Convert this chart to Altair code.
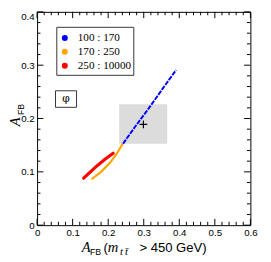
import altair as alt
import pandas as pd

# ---------------- data ----------------
blue_x = [0.242, 0.275, 0.314, 0.350, 0.391]
blue_y = [0.153, 0.184, 0.219, 0.253, 0.291]

orange_x = [0.155, 0.180, 0.205, 0.225, 0.240]
orange_y = [0.087, 0.100, 0.117, 0.135, 0.152]

red_x = [0.131, 0.150, 0.169, 0.192, 0.214]
red_y = [0.088, 0.100, 0.1115, 0.124, 0.135]

legend_labels = ["100 : 170", "170 : 250", "250 : 10000"]
legend_colors = ["#0000ff", "#ffa500", "#ff0000"]
legend_y = [0.351, 0.325, 0.299]
legend_marker_x = [0.078, 0.078, 0.078]
legend_text_x = [0.1145, 0.1145, 0.1145]
legend_box = {"x": [0.0554], "x2": [0.272], "y": [0.371], "y2": [0.281]}

phi_box = {"x": [0.0518], "x2": [0.111], "y": [0.252], "y2": [0.221]}
phi_pos = {"x": [0.0813], "y": [0.236], "t": ["\u03c6"]}

gray_box = {"x": [0.231], "x2": [0.366], "y": [0.2267], "y2": [0.1527]}
cross_pt = {"x": [0.299], "y": [0.189]}

x_major = [0, 0.1, 0.2, 0.3, 0.4, 0.5, 0.6]
y_major = [0, 0.1, 0.2, 0.3, 0.4]
x_minor = [round(0.02 * i, 2) for i in range(31) if i % 5 != 0]
y_minor = [round(0.02 * i, 2) for i in range(21) if i % 5 != 0]

# ---------------- layout ----------------
W, H = 220, 220
XS = alt.Scale(domain=[0, 0.6], nice=False, zero=False)
YS = alt.Scale(domain=[0, 0.4], nice=False, zero=False)
SANS = "Liberation Sans"
SERIF = "Liberation Serif"

x_axis = alt.Axis(values=x_major, format=".1~f", ticks=False, domain=False, grid=False,
                  labelFont=SANS, labelFontSize=10, labelColor="black", labelPadding=3,
                  title=None, labelFlush=False)
y_axis = alt.Axis(values=y_major, format=".1~f", ticks=False, domain=False, grid=False,
                  labelFont=SANS, labelFontSize=10, labelColor="black", labelPadding=3,
                  title=None, labelFlush=False,
                  labelBaseline={"condition": {"test": "datum.value >= 0.39", "value": "top"},
                                 "value": "middle"})


def X(f="x"):
    return alt.X(f"{f}:Q", scale=XS, axis=x_axis)


def Y(f="y"):
    return alt.Y(f"{f}:Q", scale=YS, axis=y_axis)


layers = []

# gray rectangle
layers.append(alt.Chart(pd.DataFrame(gray_box)).mark_rect(color="#dcdcdc").encode(
    x=X("x"), x2="x2", y=Y("y"), y2="y2"))

# series lines
def series(xs, ys, color, width, dash=None):
    df = pd.DataFrame({"x": xs, "y": ys, "o": list(range(len(xs)))})
    kw = dict(color=color, strokeWidth=width, strokeCap="round")
    if dash:
        kw["strokeDash"] = dash
        kw["strokeCap"] = "butt"
    return alt.Chart(df).mark_line(**kw).encode(x=X(), y=Y(), order="o:Q")

layers.append(series(orange_x, orange_y, "#ffa500", 2.2))
layers.append(series(red_x, red_y, "#ff0000", 3.2))
layers.append(series(blue_x, blue_y, "#0000ff", 2.0, [5, 1.2]))

# cross
layers.append(alt.Chart(pd.DataFrame(cross_pt)).mark_point(
    shape="M -1 0 L 1 0 M 0 -1 L 0 1", size=64, filled=False, color="black", strokeWidth=1.2,
    opacity=1).encode(x=X(), y=Y()))

# legend box + entries
layers.append(alt.Chart(pd.DataFrame(legend_box)).mark_rect(
    fill="white", stroke="#333333", strokeWidth=1).encode(x=X("x"), x2="x2", y=Y("y"), y2="y2"))
leg_df = pd.DataFrame({"x": legend_marker_x, "tx": legend_text_x, "y": legend_y,
                       "label": legend_labels, "c": legend_colors})
layers.append(alt.Chart(leg_df).mark_circle(size=38, opacity=1).encode(
    x=X("x"), y=Y("y"), color=alt.Color("c:N", scale=None)))
layers.append(alt.Chart(leg_df).mark_text(align="left", baseline="middle", font=SERIF,
                                          fontSize=11.5, color="black").encode(
    x=X("tx"), y=Y("y"), text="label:N"))

# phi box
layers.append(alt.Chart(pd.DataFrame(phi_box)).mark_rect(
    fill="white", stroke="#333333", strokeWidth=1).encode(x=X("x"), x2="x2", y=Y("y"), y2="y2"))
layers.append(alt.Chart(pd.DataFrame(phi_pos)).mark_text(
    font="DejaVu Serif", fontSize=11, color="black", baseline="middle", align="center").encode(
    x=X(), y=Y(), text="t:N"))

# inward ticks on all four sides
def xticks(vals, length):
    df = pd.DataFrame({"v": vals})
    b = alt.Chart(df).mark_rule(color="black", strokeWidth=1).encode(
        x=X("v"), y=alt.value(H), y2=alt.value(H - length))
    t = alt.Chart(df).mark_rule(color="black", strokeWidth=1).encode(
        x=X("v"), y=alt.value(0), y2=alt.value(length))
    return [b, t]


def yticks(vals, length):
    df = pd.DataFrame({"v": vals})
    l = alt.Chart(df).mark_rule(color="black", strokeWidth=1).encode(
        y=Y("v"), x=alt.value(0), x2=alt.value(length))
    r = alt.Chart(df).mark_rule(color="black", strokeWidth=1).encode(
        y=Y("v"), x=alt.value(W), x2=alt.value(W - length))
    return [l, r]

layers += xticks(x_major, 6.5) + xticks(x_minor, 3.5)
layers += yticks(y_major, 6.5) + yticks(y_minor, 3.5)

# axis titles built from text pieces
def txt(s, x, y, font, size, italic=False, angle=0, align="left"):
    kw = dict(text=s, font=font, fontSize=size, color="black", align=align,
              baseline="alphabetic")
    if italic:
        kw["fontStyle"] = "italic"
    if angle:
        kw["angle"] = angle
    return alt.Chart(pd.DataFrame({"a": [0]})).mark_text(**kw).encode(
        x=alt.value(x), y=alt.value(y))

layers += [
    txt("A", 46, 247.5, SERIF, 15, italic=True),
    txt("FB", 54.5, 251, SANS, 9),
    txt("(", 68.5, 247.5, SANS, 13.5),
    txt("m", 73, 247.5, SERIF, 15, italic=True),
    txt("t\u2009t\u0304", 85.5, 251, SERIF, 11, italic=True),
    txt("> 450 GeV)", 105.5, 247.5, SANS, 13.5),
    txt("A", -17.5, 118, SERIF, 15, italic=True, angle=270),
    txt("FB", -13.5, 106.5, SANS, 9, angle=270),
]

chart = alt.layer(*layers).properties(
    width=W, height=H,
    autosize=alt.AutoSizeParams(type="none"),
    padding={"left": 30, "top": 0, "right": 13, "bottom": 34},
).configure_view(stroke="black", strokeWidth=1)

chart.save("out.html", embed_options={"renderer": "svg", "actions": False})
